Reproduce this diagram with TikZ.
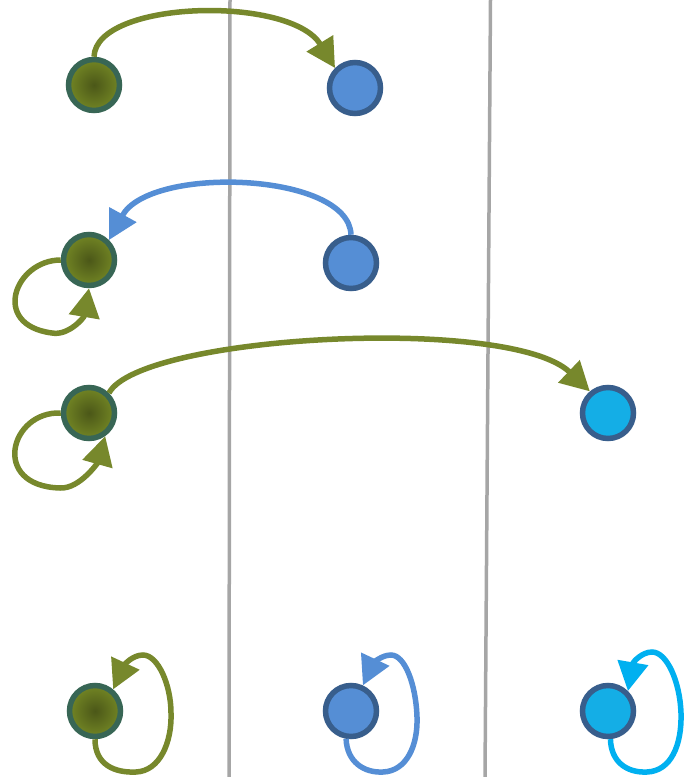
\documentclass[tikz,border=0pt]{standalone}
\usetikzlibrary{arrows.meta}
\definecolor{oliveedge}{HTML}{77882C}
\definecolor{gin}{HTML}{4B5718}
\definecolor{gout}{HTML}{728524}
\definecolor{gborder}{HTML}{386655}
\definecolor{bfill}{HTML}{558ED5}
\definecolor{bborder}{HTML}{385E8C}
\definecolor{cfill}{HTML}{14AEE6}
\definecolor{cedge}{HTML}{00B0F0}
\definecolor{grayline}{HTML}{A6A6A6}
\tikzset{
  dot/.style={circle, minimum size=51pt, inner sep=0pt, line width=5.5pt},
  gdot/.style={dot, draw=gborder, inner color=gin, outer color=gout},
  bdot/.style={dot, draw=bborder, fill=bfill},
  cdot/.style={dot, draw=bborder, fill=cfill},
  tipstyle/.style={-{Triangle[length=29pt,width=30pt]}},
  eg/.style={draw=oliveedge, line width=5.5pt, tipstyle},
  eb/.style={draw=bfill, line width=5.5pt, tipstyle},
  ec/.style={draw=cedge, line width=5.5pt, tipstyle},
  gline/.style={draw=grayline, line width=3.5pt}
}
\begin{document}
\begin{tikzpicture}[x=1pt,y=-1pt]
\useasboundingbox (0,0) rectangle (685,777);
% separators
\draw[gline] (230,0) -- (229,777);
\draw[gline] (490.5,0) -- (485,777);
% nodes
\node[gdot] (A1) at (94,85) {};
\node[bdot] (B1) at (355,88) {};
\node[gdot] (A2) at (89,260) {};
\node[bdot] (B2) at (351,263) {};
\node[gdot] (A3) at (89,413) {};
\node[cdot] (C3) at (608,413) {};
\node[gdot] (A4) at (95,711) {};
\node[bdot] (B4) at (351,711) {};
\node[cdot] (C4) at (608,711) {};
% edges
\draw[eg] (A1.north) .. controls (96,0) and (290,-5) .. (B1.135);
\draw[eb] (B2.north) .. controls (349,172) and (150,165) .. (A2.45);
\draw[eg] (A2.west) .. controls (15,260) and (-10,325) .. (52,333)
  .. controls (68,336) and (84,318) .. (A2.south);
\draw[eg] (A3.45) .. controls (140,335) and (510,315) .. (C3.130);
\draw[eg] (A3.west) .. controls (10,411) and (-10,486) .. (60,488)
  .. controls (80,489) and (98,462) .. (A3.-55);
\draw[eg] (A4.south) .. controls (95,765) and (115,773) .. (136,772)
  .. controls (160,771) and (172,742) .. (171,713)
  .. controls (171,685) and (158,655) .. (143,655)
  .. controls (133,655) and (125,664) .. (A4.50);
\draw[eb] (B4.260) .. controls (347,762) and (364,773) .. (383,772)
  .. controls (407,771) and (418,745) .. (417,717)
  .. controls (416,685) and (405,655) .. (391,655)
  .. controls (381,655) and (373,664) .. (B4.65);
\draw[ec] (C4.275) .. controls (611,762) and (627,773) .. (647,772)
  .. controls (671,771) and (682,745) .. (681,713)
  .. controls (680,682) and (667,652) .. (652,652)
  .. controls (642,652) and (633,662) .. (C4.45);
\end{tikzpicture}
\end{document}
